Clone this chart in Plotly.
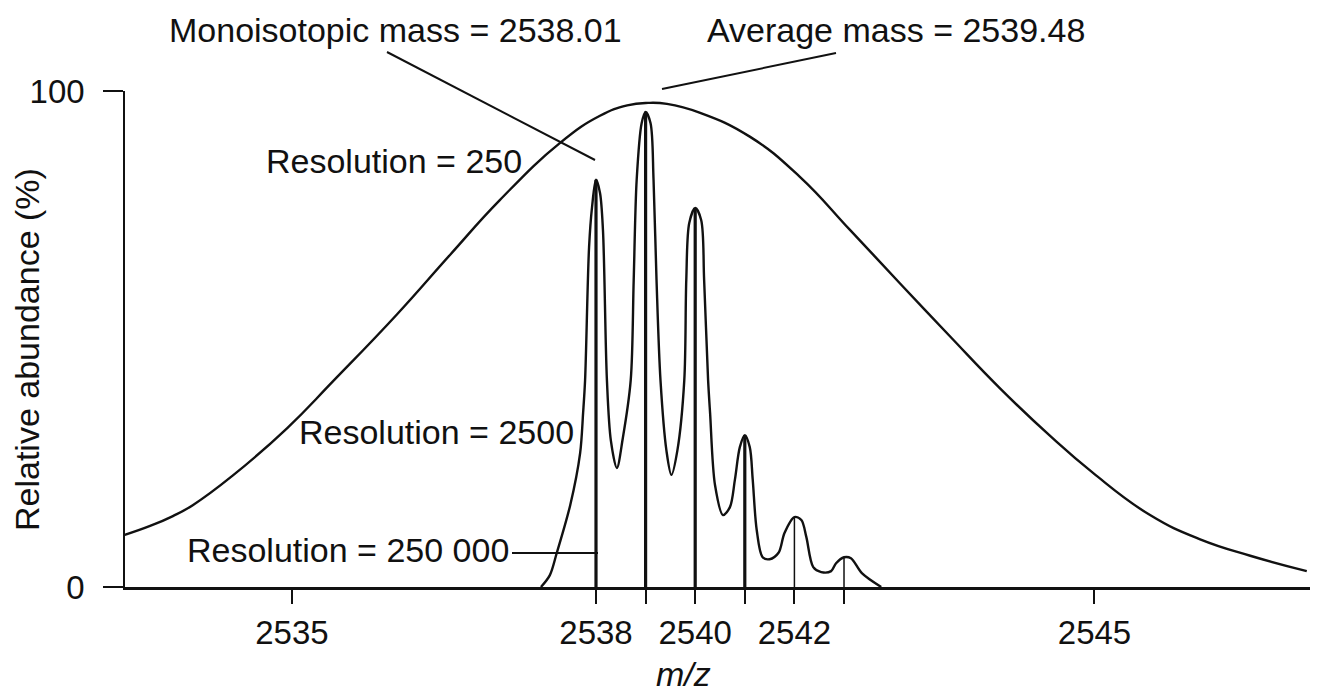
import plotly.graph_objects as go

# ---------------- data ----------------
# Resolution = 250 : broad unresolved envelope (m/z, relative abundance %)
res250_mz = [2528.50, 2529.01, 2529.47, 2529.87, 2530.68, 2531.77, 2532.70, 2533.99,
             2535.06, 2536.06, 2537.27, 2538.08, 2538.63, 2539.05, 2539.43, 2540.10,
             2541.10, 2542.11, 2543.12, 2544.13, 2545.14, 2546.15, 2547.15, 2548.02,
             2549.17, 2550.18, 2551.19, 2552.33]
res250_ab = [10.5, 12.3, 14.3, 16.5, 22.5, 32.0, 41.5, 55.0,
             67.0, 78.0, 89.5, 95.0, 97.1, 97.6, 97.4, 95.6,
             90.8, 82.7, 72.0, 61.2, 50.5, 40.0, 30.5, 23.0,
             14.5, 9.6, 6.3, 3.2]

# Resolution = 2500 : partially resolved isotope cluster
res2500_mz = [2536.89, 2537.07, 2537.21, 2537.48, 2537.68, 2537.74, 2537.78, 2537.86, 2537.92,
              2538.00, 2538.08, 2538.14, 2538.22, 2538.30, 2538.42,
              2538.54, 2538.70, 2538.76, 2538.82, 2538.92, 2539.00, 2539.10, 2539.16, 2539.22,
              2539.30, 2539.42, 2539.52,
              2539.64, 2539.78, 2539.82, 2539.88, 2540.00, 2540.12, 2540.18, 2540.26, 2540.30,
              2540.40, 2540.56,
              2540.70, 2540.80, 2540.90, 2541.00, 2541.10, 2541.16, 2541.24, 2541.36, 2541.50,
              2541.68, 2541.80, 2542.00, 2542.14, 2542.24, 2542.38, 2542.54,
              2542.74, 2542.84, 2543.00, 2543.14, 2543.36, 2543.75]
res2500_ab = [0.0, 2.4, 6.9, 16.5, 27.0, 35.1, 41.7, 68.5, 76.6,
              82.1, 79.5, 72.0, 41.7, 29.5, 24.0,
              30.0, 41.7, 61.9, 82.1, 93.5, 95.8, 93.5, 82.1, 61.9,
              41.7, 27.5, 22.6,
              27.5, 41.7, 61.9, 73.4, 76.4, 74.0, 61.9, 41.7, 35.1,
              20.5, 14.5,
              16.1, 21.6, 28.2, 30.6, 28.2, 21.6, 11.5, 6.0, 5.6,
              6.9, 10.9, 14.1, 13.5, 10.1, 4.0, 3.0,
              3.2, 4.8, 6.0, 5.8, 2.8, 0.0]

# Resolution = 250 000 : fully resolved isotope sticks
stick_mz = [2538, 2539, 2540, 2541, 2542, 2543]
stick_ab = [82.1, 95.8, 76.4, 30.6, 14.1, 6.0]

# axis ticks (positions on the drawing's m/z scale, and their labels)
x_tick_pos = [2531.87, 2538, 2539, 2540, 2541, 2542, 2543, 2548.05]
x_tick_txt = ["2535", "2538", "", "2540", "", "2542", "", "2545"]
y_tick_pos = [0, 100]
y_tick_txt = ["0", "100"]

# ---------------- figure ----------------
FONT = "Liberation Sans, Arial, Helvetica, sans-serif"
INK = "#111111"

W, H = 1319, 697
L, R, T, B = 125, 9, 91, 110
PW, PH = W - L - R, H - T - B


def px(x):  # pixel -> paper x
    return (x - L) / PW


def py(y):  # pixel -> paper y
    return (H - B - y) / PH


fig = go.Figure()

fig.add_trace(go.Scatter(x=res250_mz, y=res250_ab, mode="lines",
                         line=dict(color=INK, width=2.4, shape="spline", smoothing=1.3),
                         hoverinfo="skip", showlegend=False))

fig.add_trace(go.Scatter(x=res2500_mz, y=res2500_ab, mode="lines",
                         line=dict(color=INK, width=2.4, shape="spline", smoothing=0.9),
                         hoverinfo="skip", showlegend=False))

# sticks: thick for the four main isotopes, thin for the two small ones
for idx, w in ((range(0, 4), 3.2), (range(4, 6), 1.5)):
    xs, ys = [], []
    for i in idx:
        xs += [stick_mz[i], stick_mz[i], None]
        ys += [0, stick_ab[i], None]
    fig.add_trace(go.Scatter(x=xs, y=ys, mode="lines",
                             line=dict(color=INK, width=w),
                             hoverinfo="skip", showlegend=False, cliponaxis=False))

annotations = [
    dict(text="Monoisotopic mass = 2538.01", x=px(395.5), y=py(30)),
    dict(text="Average mass = 2539.48", x=px(896), y=py(30)),
    dict(text="Resolution = 250", x=px(393.5), y=py(161)),
    dict(text="Resolution = 2500", x=px(436.5), y=py(432)),
    dict(text="Resolution = 250 000", x=px(348), y=py(550)),
    dict(text="<i>m/z</i>", x=px(683), y=py(674)),
]
for a in annotations:
    a.update(xref="paper", yref="paper", xanchor="center", yanchor="middle",
             showarrow=False, font=dict(family=FONT, size=34, color=INK))
annotations.append(dict(text="Relative abundance (%)", x=px(27), y=py(350),
                        xref="paper", yref="paper", xanchor="center", yanchor="middle",
                        textangle=-90, showarrow=False,
                        font=dict(family=FONT, size=34, color=INK)))

shapes = [
    dict(type="line", xref="paper", yref="paper", x0=px(387), y0=py(52), x1=px(595), y1=py(160),
         line=dict(color=INK, width=2)),
    dict(type="line", xref="paper", yref="paper", x0=px(662), y0=py(89), x1=px(836), y1=py(53),
         line=dict(color=INK, width=2)),
    dict(type="line", xref="paper", yref="paper", x0=px(512), y0=py(553), x1=px(598), y1=py(553),
         line=dict(color=INK, width=2)),
]

fig.update_layout(
    width=W, height=H,
    margin=dict(l=L, r=R, t=T, b=B, pad=0),
    paper_bgcolor="white", plot_bgcolor="white",
    font=dict(family=FONT, color=INK),
    annotations=annotations, shapes=shapes,
    showlegend=False,
)
fig.update_xaxes(range=[2528.504, 2552.395], showgrid=False, zeroline=False,
                 showline=True, linecolor=INK, linewidth=3,
                 ticks="outside", ticklen=14, tickwidth=2, tickcolor=INK,
                 tickmode="array", tickvals=x_tick_pos, ticktext=x_tick_txt,
                 tickfont=dict(family=FONT, size=33, color=INK), ticklabelstandoff=0)
fig.update_yaxes(range=[0, 100], showgrid=False, zeroline=False,
                 showline=True, linecolor=INK, linewidth=1.5,
                 ticks="outside", ticklen=20, tickwidth=2, tickcolor=INK,
                 tickmode="array", tickvals=y_tick_pos, ticktext=y_tick_txt,
                 tickfont=dict(family=FONT, size=33, color=INK), ticklabelstandoff=12)

fig.write_html("out.html")
